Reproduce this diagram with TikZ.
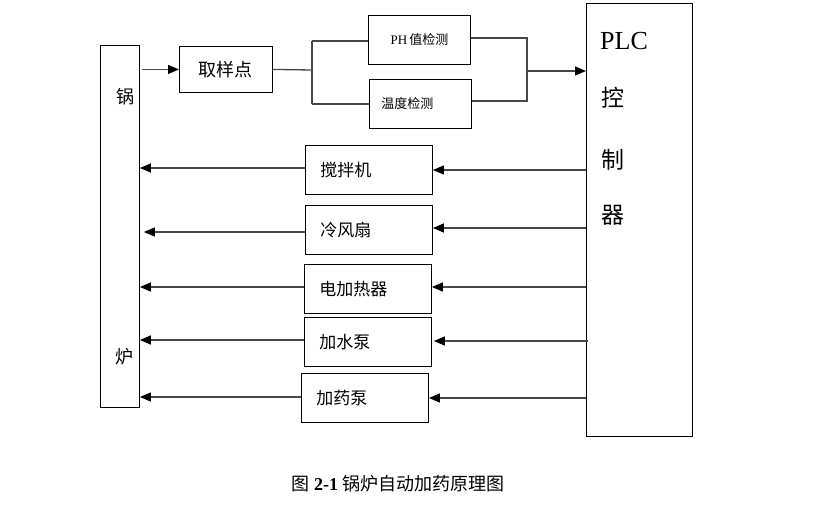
\documentclass[tikz,border=0pt]{standalone}
\usepackage{fontspec}
\setmainfont{Liberation Serif}
\newfontfamily\cjk{Noto Sans CJK SC}
\usetikzlibrary{arrows.meta}
\begin{document}
\begin{tikzpicture}[x=1pt,y=-1pt,
  box/.style={draw,line width=0.9pt,inner sep=0pt,anchor=north west},
  lbox/.style={box,align=left,inner xsep=15pt,text width=97pt,minimum height=49pt,font=\cjk\fontsize{17}{20}\selectfont},
  conn/.style={line width=1.3pt,draw=black!72},
  arr/.style={conn,-{Triangle[length=11pt,width=9pt,color=black]}},
  lbl/.style={inner sep=0pt,font=\cjk\fontsize{18}{20}\selectfont}]
\useasboundingbox (0,0) rectangle (824,505);
% boiler
\node[box,minimum width=39pt,minimum height=362pt] (boiler) at (100,45) {};
\node[lbl] (guo) at (125,97) {锅};
\node[lbl] (lu) at (124,357) {炉};
% sampling
\node[box,minimum width=93pt,minimum height=46pt,font=\cjk\fontsize{18}{20}\selectfont] (sample) at (179,46) {取样点};
\node[box,minimum width=102pt,minimum height=49pt,font=\fontsize{13}{15}\selectfont] (ph) at (368,15) {PH\,{\cjk 值检测}};
\node[box,minimum width=102pt,minimum height=49pt,align=left,text width=78pt,inner xsep=12pt,font=\cjk\fontsize{13}{15}\selectfont] (temp) at (369,79) {温度检测};
% PLC
\node[box,minimum width=106pt,minimum height=433pt] (plc) at (586,3) {};
\node[inner sep=0pt,font=\fontsize{26}{28}\selectfont] (plct) at (624,41) {PLC};
\node[lbl,font=\cjk\fontsize{23}{25}\selectfont] (k1) at (613,98) {控};
\node[lbl,font=\cjk\fontsize{23}{25}\selectfont] (k2) at (613,160) {制};
\node[lbl,font=\cjk\fontsize{23}{25}\selectfont] (k3) at (613,215) {器};
% outputs
\node[lbox] (o1) at (305,145) {搅拌机};
\node[lbox] (o2) at (305,205) {冷风扇};
\node[lbox] (o3) at (304,264) {电加热器};
\node[lbox] (o4) at (304,317) {加水泵};
\node[lbox] (o5) at (301,373) {加药泵};
% sampling connectors
\draw[arr] (boiler.east |- sample.west) ++(2,0) -- (sample.west);
\coordinate (s1) at (312,70);
\draw[conn] (sample.east) -- (s1);
\draw[conn] (312,41) -- (312,104);
\draw[conn] (312,41) -- (ph.west |- 0,41);
\draw[conn] (312,104) -- (temp.west |- 0,104);
\draw[conn] (ph.east |- 0,38) -- (527,38) -- (527,101) -- (temp.east |- 0,101);
\draw[arr] (527,71) -- (plc.west |- 0,71);
% control outputs
\draw[arr] (plc.west |- 0,170) -- (o1.east |- 0,170);
\draw[arr] (plc.west |- 0,228) -- (o2.east |- 0,228);
\draw[arr] (plc.west |- 0,287) -- (o3.east |- 0,287);
\draw[arr] (588,341) -- ([xshift=2pt]o4.east |- 0,341);
\draw[arr] (plc.west |- 0,398) -- (o5.east |- 0,398);
\draw[arr] (o1.west |- 0,168) -- (boiler.east |- 0,168);
\draw[arr] (o2.west |- 0,232) -- ([xshift=4pt]boiler.east |- 0,232);
\draw[arr] (o3.west |- 0,287) -- (boiler.east |- 0,287);
\draw[arr] (o4.west |- 0,340) -- (boiler.east |- 0,340);
\draw[arr] (o5.west |- 0,397) -- (boiler.east |- 0,397);
% caption
\node[inner sep=0pt,font=\fontsize{18}{20}\selectfont] (cap) at (398,484) {{\cjk 图} \textbf{2-1} {\cjk 锅炉自动加药原理图}};
\end{tikzpicture}
\end{document}
